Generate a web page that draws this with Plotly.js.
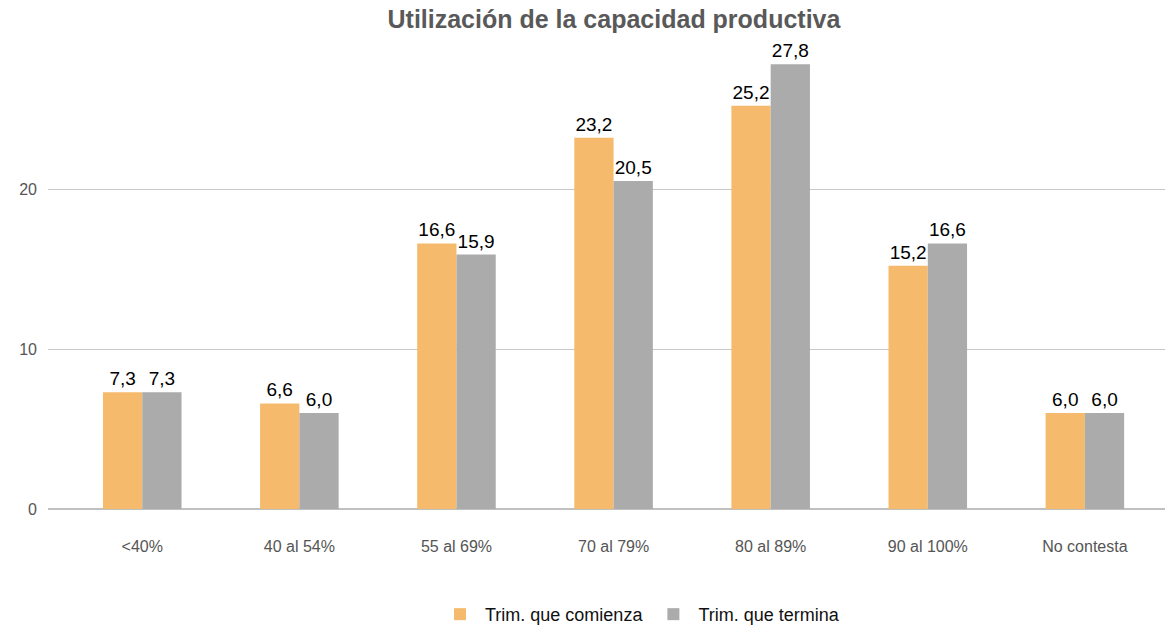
<!DOCTYPE html>
<html><head><meta charset="utf-8">
<script src="https://cdn.plot.ly/plotly-3.0.1.min.js"></script>
<style>html,body{margin:0;padding:0;background:#fff}#c{width:1165px;height:627px}</style>
</head><body><div id="c"></div>
<script>
const categories = ["<40%", "40 al 54%", "55 al 69%", "70 al 79%", "80 al 89%", "90 al 100%", "No contesta"];
const comienza = [7.3, 6.6, 16.6, 23.2, 25.2, 15.2, 6.0];
const termina = [7.3, 6.0, 15.9, 20.5, 27.8, 16.6, 6.0];
const seriesNames = ["Trim. que comienza", "Trim. que termina"];
const yTicks = [0, 10, 20];

const mk = (name, y, color) => ({
  type: 'bar', name: name, x: categories, y: y,
  marker: {color: color},
  texttemplate: '%{y:.1f}', textposition: 'outside', textangle: 0,
  textfont: {family: 'Arial, Liberation Sans, sans-serif', size: 19, color: '#000'},
  cliponaxis: false, hoverinfo: 'x+y'
});

const data = [mk(seriesNames[0], comienza, '#F6BA6C'), mk(seriesNames[1], termina, '#ABABAB')];

const layout = {
  width: 1165, height: 627,
  margin: {l: 48, r: 0, t: 37, b: 118, autoexpand: false},
  paper_bgcolor: '#fff', plot_bgcolor: '#fff',
  separators: ',.',
  barmode: 'group', bargap: 0.5, bargroupgap: 0,
  font: {family: 'Arial, Liberation Sans, sans-serif', color: '#555'},
  title: {text: '<b>Utilización de la capacidad productiva</b>', x: 0.527, xanchor: 'center', y: 0.97, yanchor: 'middle',
          font: {size: 25, color: '#595959', family: 'Arial, Liberation Sans, sans-serif'}},
  xaxis: {type: 'category', range: [-0.6, 6.51], showgrid: false, zeroline: false,
          showline: false, ticks: '', ticklabelstandoff: 26,
          tickfont: {size: 16, color: '#555'}},
  yaxis: {range: [0, 29.5], tickvals: yTicks, ticktext: yTicks.map(String), showgrid: true, gridcolor: '#C8C8C8', gridwidth: 1,
          zeroline: true, zerolinecolor: '#C0C0C0', zerolinewidth: 1.5, showline: false, ticks: '',
          ticklabelstandoff: 10, tickfont: {size: 16, color: '#555'}},
  showlegend: true,
  legend: {orientation: 'h', x: 0.53, xanchor: 'center', yref: 'container', y: 0.02, yanchor: 'middle',
           font: {size: 18, color: '#111'}, traceorder: 'normal', itemwidth: 40}
};

Plotly.newPlot('c', data, layout, {displayModeBar: false, staticPlot: true});
</script></body></html>
